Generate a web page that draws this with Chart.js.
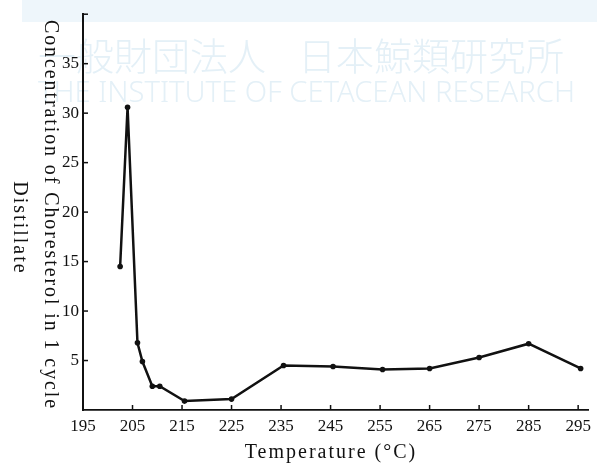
<!DOCTYPE html>
<html>
<head>
    <title>Choresterol Distillate</title>
    <script src="https://cdn.jsdelivr.net/npm/chart.js"></script>
    <style>
        html, body { margin: 0; padding: 0; background: white; }
        #wrap { width: 597px; height: 463px; }
    </style>
</head>
<body>
    <div id="wrap"><canvas id="distChart" width="597" height="463"></canvas></div>
    <script>
        // values
        let temps = [202.5, 204, 206, 207, 209, 210.5, 215.5, 225, 235.5, 245.5, 255.5, 265, 275, 285, 295.5];
        let conc = [14.5, 30.6, 6.8, 4.9, 2.4, 2.4, 0.9, 1.1, 4.5, 4.4, 4.1, 4.2, 5.3, 6.7, 4.2];
        let xTicks = [195, 205, 215, 225, 235, 245, 255, 265, 275, 285, 295];
        let yTicks = [5, 10, 15, 20, 25, 30, 35];

        let serif = '"Liberation Serif", "DejaVu Serif", serif';

        let paperPlugin = {
            id: 'paper',
            beforeDraw(chart) {
                let ctx = chart.ctx;
                ctx.save();
                ctx.fillStyle = 'white';
                ctx.fillRect(0, 0, chart.width, chart.height);
                // faint band + watermark of the scan
                ctx.fillStyle = 'rgb(238,246,251)';
                ctx.fillRect(22, 0, chart.width - 22, 22);
                ctx.fillStyle = 'rgb(228,240,247)';
                ctx.textBaseline = 'alphabetic';
                ctx.textAlign = 'left';
                ctx.font = '300 38px "Noto Sans CJK JP"';
                ctx.fillText('一般財団法人', 38, 70, 228);
                ctx.fillText('日本鯨類研究所', 298, 70, 272);
                ctx.font = '300 30px "Noto Sans", sans-serif';
                ctx.fillText('THE INSTITUTE OF CETACEAN RESEARCH', 38, 102, 537);
                ctx.restore();
            },
            afterDraw(chart) {
                let ctx = chart.ctx;
                let xs = chart.scales.x, ys = chart.scales.y;
                ctx.save();
                // inward tick marks
                ctx.strokeStyle = '#111';
                ctx.lineWidth = 1.5;
                xTicks.forEach(v => {
                    let px = xs.getPixelForValue(v);
                    ctx.beginPath();
                    ctx.moveTo(px, ys.bottom);
                    ctx.lineTo(px, ys.bottom - 5);
                    ctx.stroke();
                });
                yTicks.concat([40]).forEach(v => {
                    let py = ys.getPixelForValue(v);
                    ctx.beginPath();
                    ctx.moveTo(xs.left, py);
                    ctx.lineTo(xs.left + 5, py);
                    ctx.stroke();
                });
                // axis titles
                ctx.fillStyle = '#111';
                ctx.font = '20px ' + serif;
                ctx.letterSpacing = '2px';
                ctx.textAlign = 'center';
                ctx.textBaseline = 'alphabetic';
                ctx.fillText('Temperature (\u00B0C)', 331, 458);
                ctx.translate(50, 215);
                ctx.rotate(Math.PI / 2);
                ctx.letterSpacing = '1.9px';
                ctx.textBaseline = 'middle';
                ctx.fillText('Concentration of Choresterol in 1 cycle', 0, 0);
                ctx.letterSpacing = '2px';
                ctx.fillText('Distillate', 13, 31);
                ctx.restore();
            }
        };

        let ctx = document.getElementById('distChart').getContext('2d');
        let distChart = new Chart(ctx, {
            type: 'line',
            data: {
                datasets: [{
                    data: temps.map((t, i) => ({x: t, y: conc[i]})),
                    borderColor: '#111',
                    backgroundColor: '#111',
                    borderWidth: 2.5,
                    pointRadius: 2.8,
                    pointBorderWidth: 0,
                    tension: 0
                }]
            },
            options: {
                responsive: false,
                animation: false,
                layout: { padding: { top: 14, right: 5, left: 0, bottom: 0 } },
                plugins: { legend: { display: false }, tooltip: { enabled: false } },
                scales: {
                    x: {
                        type: 'linear',
                        min: 195,
                        max: 297,
                        afterBuildTicks: s => { s.ticks = xTicks.map(v => ({value: v})); },
                        afterFit: s => { s.height = 53; },
                        grid: { display: false, drawTicks: false },
                        border: { display: true, color: '#111', width: 1.8 },
                        ticks: { color: '#111', font: { family: serif, size: 17 }, padding: 6, maxRotation: 0 }
                    },
                    y: {
                        min: 0,
                        max: 40,
                        afterBuildTicks: s => { s.ticks = yTicks.map(v => ({value: v})); },
                        afterFit: s => { s.width = 83; },
                        grid: { display: false, drawTicks: false },
                        border: { display: true, color: '#111', width: 2 },
                        ticks: { color: '#111', font: { family: serif, size: 17 }, padding: 4, crossAlign: 'near' }
                    }
                }
            },
            plugins: [paperPlugin]
        });
    </script>
</body>
</html>
